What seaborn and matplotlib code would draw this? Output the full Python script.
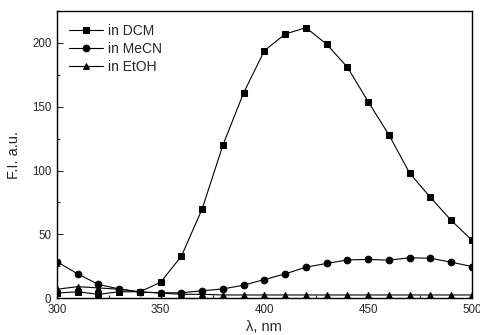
import matplotlib
matplotlib.use("Agg")
import matplotlib.pyplot as plt
from matplotlib.ticker import MultipleLocator
import seaborn as sns
import pandas as pd

# wavelengths at the marker positions (nm)
wavelength = [300, 310, 320, 330, 340, 350, 360, 370, 380, 390, 400,
              410, 420, 430, 440, 450, 460, 470, 480, 490, 500]

# fluorescence intensity
fi_dcm = [4, 5, 3, 5, 5, 12.5, 33, 70, 120, 161, 194,
          207, 212, 199, 181, 154, 128, 98, 79, 61, 45.5]
fi_mecn = [28.5, 19, 10.7, 7.2, 4.7, 4.2, 4.2, 5.8, 7.2, 10.2, 14.6,
           19, 24.3, 27.2, 30, 30.3, 29.8, 31.6, 31.3, 28.2, 24.8]
fi_etoh = [7, 9, 8, 7, 5, 4, 3, 3, 2.5, 2.5, 2.5,
           2.5, 2.5, 2.5, 2.5, 2.5, 2.5, 2.5, 2.5, 2.5, 2.5]

labels = ["in DCM", "in MeCN", "in EtOH"]

df = pd.concat([
    pd.DataFrame({"wl": wavelength, "fi": vals, "solvent": lab})
    for vals, lab in zip([fi_dcm, fi_mecn, fi_etoh], labels)
])

sns.set_style("ticks")
plt.rcParams["font.family"] = ["Liberation Sans", "DejaVu Sans"]

fig = plt.figure(figsize=(4.81, 3.35), dpi=100)
ax = fig.add_axes([0.1185, 0.11, 0.8625, 0.857])

sns.lineplot(data=df, x="wl", y="fi", hue="solvent", style="solvent",
             markers=["s", "o", "^"], dashes=False,
             palette=["black"] * 3, linewidth=0.8, markersize=4.8,
             markeredgecolor="black", ax=ax)

ax.set_xlim(300, 500)
ax.set_ylim(0, 225)
ax.xaxis.set_major_locator(MultipleLocator(50))
ax.xaxis.set_minor_locator(MultipleLocator(25))
ax.yaxis.set_major_locator(MultipleLocator(50))
ax.yaxis.set_minor_locator(MultipleLocator(25))
ax.tick_params(which="both", direction="in", labelsize=8.3, width=0.8)
ax.tick_params(which="major", length=4, pad=4)
ax.tick_params(which="minor", length=2.5)
for s in ax.spines.values():
    s.set_linewidth(1.0)
    s.set_color("black")

ax.set_xlabel("λ, nm", fontsize=10.5, labelpad=3)
ax.set_ylabel("F.I. a.u.", fontsize=10.5, labelpad=8)

leg = ax.legend(loc="upper left", frameon=False, fontsize=10,
                handlelength=2.4, handletextpad=0.35, labelspacing=0.3,
                borderaxespad=0.5, borderpad=0.4)

fig.savefig("out.png", dpi=100)
